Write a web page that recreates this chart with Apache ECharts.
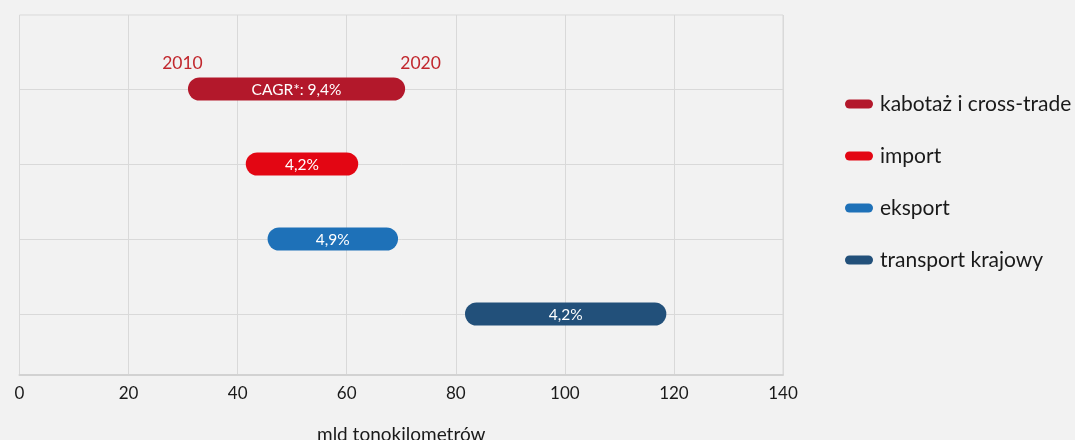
<!DOCTYPE html>
<html>
<head>
<meta charset="utf-8">
<script src="https://cdn.jsdelivr.net/npm/echarts@6/dist/echarts.min.js"></script>
<style>
html,body{margin:0;padding:0;background:#f2f2f2;}
#c{width:1075px;height:440px;}
</style>
</head>
<body>
<div id="c"></div>
<script>
const categories = ['kabotaż i cross-trade', 'import', 'eksport', 'transport krajowy'];
const value2010 = [33.0, 43.6, 47.6, 83.8];
const value2020 = [68.6, 60.0, 67.3, 116.5];
const cagrLabels = ['CAGR*: 9,4%', '4,2%', '4,9%', '4,2%'];
const yearLabels = ['2010', '2020'];
const xTicks = [0, 20, 40, 60, 80, 100, 120, 140];
const colors = ['#b3182b', '#e30613', '#1e71b8', '#22507a'];

const FONT = 'Lato, "Open Sans", sans-serif';
const rows = categories.map((c, i) => categories.length - i);

function renderItem(params, api) {
  const y = api.value(2);
  const a = api.coord([api.value(0), y]);
  const b = api.coord([api.value(1), y]);
  const r = 11.5;
  const si = params.seriesIndex - 1;
  const children = [{
    type: 'rect',
    shape: { x: a[0] - r, y: a[1] - r, width: b[0] - a[0] + 2 * r, height: 2 * r, r: r },
    style: { fill: colors[si] }
  }, {
    type: 'text',
    style: {
      text: cagrLabels[si], x: (a[0] + b[0]) / 2, y: a[1] + 0.5,
      align: 'center', verticalAlign: 'middle', fill: '#ffffff',
      font: '15.5px ' + FONT
    }
  }];
  if (si === 0) {
    children.push({
      type: 'text',
      style: { text: yearLabels[0], x: a[0] - 17, y: a[1] - 26, align: 'center', verticalAlign: 'middle', fill: '#c1272d', font: '17.5px ' + FONT }
    });
    children.push({
      type: 'text',
      style: { text: yearLabels[1], x: b[0] + 27, y: a[1] - 26, align: 'center', verticalAlign: 'middle', fill: '#c1272d', font: '17.5px ' + FONT }
    });
  }
  return { type: 'group', children: children };
}

const series = [{
  type: 'line',
  name: '__grid',
  data: [],
  z: 1,
  silent: true,
  markLine: {
    silent: true,
    z: 1,
    symbol: ['none', 'none'],
    label: { show: false },
    lineStyle: { color: '#d9d9d9', width: 1, type: 'solid' },
    data: rows.map(v => ({ yAxis: v }))
  }
}];
categories.forEach((name, i) => {
  series.push({
    type: 'custom',
    name: name,
    z: 3,
    itemStyle: { color: colors[i] },
    renderItem: renderItem,
    encode: { x: [0, 1], y: 2 },
    data: [[value2010[i], value2020[i], rows[i]]]
  });
});

const chart = echarts.init(document.getElementById('c'));
chart.setOption({
  backgroundColor: '#f2f2f2',
  animation: false,
  grid: { left: 19.5, right: 292, top: 15, bottom: 65, show: true, borderColor: '#d9d9d9', borderWidth: 1,
    backgroundColor: 'transparent', containLabel: false, outerBoundsMode: 'none' },
  xAxis: {
    type: 'value', min: 0, max: 140, interval: 20,
    axisLine: { show: true, lineStyle: { color: '#d2d2d2', width: 2 } },
    axisTick: { show: false },
    splitLine: { show: true, lineStyle: { color: '#d9d9d9', width: 1 } },
    axisLabel: { color: '#1a1a1a', fontSize: 17, fontFamily: FONT, margin: 10,
      formatter: v => xTicks.indexOf(v) >= 0 ? String(v) : '' },
    name: 'mld tonokilometrów', nameLocation: 'middle', nameGap: 50,
    nameTextStyle: { color: '#1a1a1a', fontSize: 19, fontFamily: FONT }
  },
  yAxis: {
    type: 'value', min: 1 - 61 / 75, max: 1 - 61 / 75 + 360 / 75,
    show: false, splitLine: { show: false }
  },
  legend: {
    data: categories,
    orient: 'vertical', left: 845, top: 93, padding: 0,
    itemWidth: 28, itemHeight: 9, itemGap: 30,
    icon: 'path://M4.5,0 H23.5 A4.5,4.5 0 0 1 23.5,9 H4.5 A4.5,4.5 0 0 1 4.5,0 Z',
    textStyle: { color: '#1a1a1a', fontSize: 21, fontFamily: FONT, lineHeight: 22, padding: [0, 0, 0, 2] },
    selectedMode: false
  },
  series: series
});
</script>
</body>
</html>
